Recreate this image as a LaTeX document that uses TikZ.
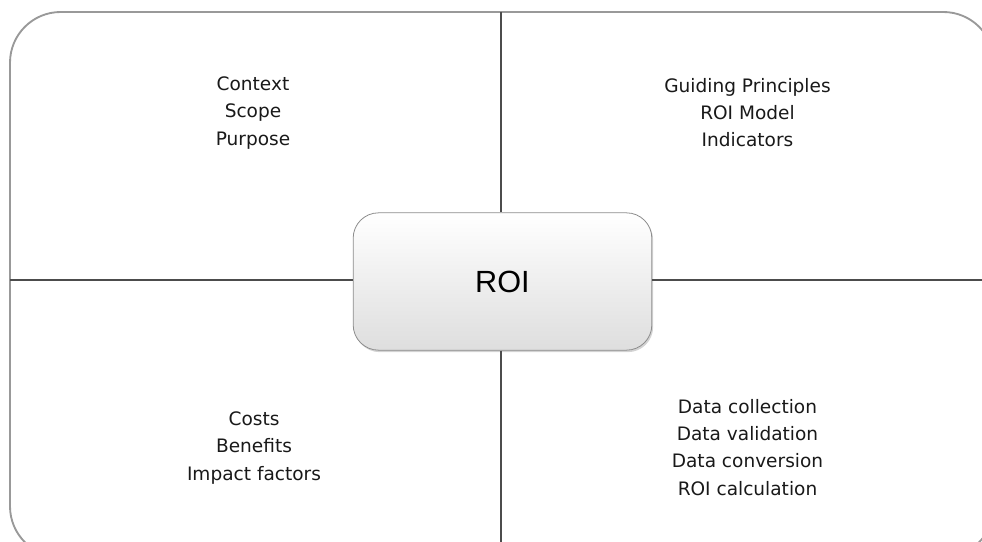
\documentclass[tikz,border=0pt]{standalone}
\usepackage{fontspec}
\setmainfont{DejaVu Sans}
\newfontfamily\roifont{Liberation Sans}
\usetikzlibrary{shadows}

\begin{document}
\begin{tikzpicture}[x=0.75pt, y=-0.75pt,
    quadtext/.style={align=center, font=\fontsize{13.9}{20.3}\selectfont, text=black!90},
    divider/.style={draw=black!70, line width=0.8pt},
    roibox/.style={draw=black!45, line width=0.6pt, rounded corners=19pt,
      minimum width=224pt, minimum height=103pt, top color=white, bottom color=black!13,
      drop shadow={opacity=0.35, shadow xshift=1pt, shadow yshift=-1.5pt},
      font=\roifont\fontsize{23}{26}\selectfont}]
  \useasboundingbox (0,0) rectangle (982,542);
  \begin{scope}
    \clip (0,0) rectangle (982,542);
    % Outer frame
    \draw[black!40, line width=1.4pt, rounded corners=38pt] (10,12) rectangle (994,557);
    % Dividers
    \coordinate (top) at (501,12);
    \coordinate (bottom) at (501,557);
    \coordinate (left) at (10,280);
    \coordinate (right) at (994,280);
    \node[roibox] (roi) at (502.5,281.5) {ROI};
    \draw[divider] (top) -- (roi.north -| top);
    \draw[divider] (roi.south -| bottom) -- (bottom);
    \draw[divider] (left) -- (roi.west |- left);
    \draw[divider] (roi.east |- right) -- (right);
  \end{scope}
  % Quadrant texts
  \node[quadtext] (plan) at (253,113) {Context\\Scope\\Purpose};
  \node[quadtext] (model) at (747.5,113) {Guiding Principles\\ROI Model\\Indicators};
  \node[quadtext] (factors) at (254,448) {Costs\\Benefits\\Impact factors};
  \node[quadtext] (steps) at (747.5,447.5) {Data collection\\Data validation\\Data conversion\\ROI calculation};
\end{tikzpicture}
\end{document}
